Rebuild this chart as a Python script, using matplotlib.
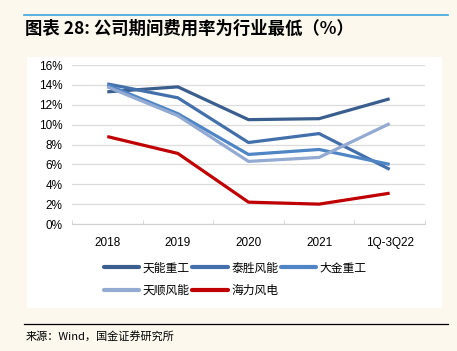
import matplotlib.pyplot as plt
from matplotlib.patches import Rectangle
from matplotlib.lines import Line2D

plt.rcParams['font.family'] = ['Liberation Sans', 'Noto Sans CJK SC', 'DejaVu Sans']

categories = ['2018', '2019', '2020', '2021', '1Q-3Q22']
names = ['天能重工', '泰胜风能', '大金重工', '天顺风能', '海力风电']
tianneng = [13.3, 13.8, 10.5, 10.6, 12.6]
taisheng = [14.1, 12.7, 8.2, 9.1, 5.5]
dajin = [14.0, 11.1, 7.0, 7.5, 6.0]
tianshun = [13.8, 10.9, 6.3, 6.7, 10.1]
haili = [8.8, 7.1, 2.2, 2.0, 3.1]
series = [tianneng, taisheng, dajin, tianshun, haili]
colors = ['#3A5E8E', '#4370AB', '#4F85C5', '#93AAD3', '#C00000']

bg = '#FCF8EE'
fig = plt.figure(figsize=(4.57, 3.51), dpi=100, facecolor=bg)

# white panel behind chart
fig.patches.append(Rectangle((0.059, 0.1225), 0.909, 0.715, transform=fig.transFigure,
                             facecolor='white', edgecolor='none', zorder=-5))
# top blue rule and bottom black rule
fig.add_artist(Line2D([0.0525, 0.98], [0.957, 0.957], color='#3DA5E0', lw=1.2))
fig.add_artist(Line2D([0.0525, 0.98], [0.077, 0.077], color='black', lw=0.9))

fig.text(0.055, 0.918, '图表 28: 公司期间费用率为行业最低（%）', fontsize=12.5,
         fontweight='bold', family=['Noto Sans CJK SC'], va='center', ha='left')
fig.text(0.055, 0.041, '来源：Wind，国金证券研究所', fontsize=8,
         family=['Noto Sans CJK SC'], va='center', ha='left')

ax = fig.add_axes([0.1575, 0.3618, 0.7724, 0.453], zorder=2)
ax.set_facecolor('white')
x = range(len(categories))
lines = []
for vals, c, n in zip(series, colors, names):
    ln, = ax.plot(x, vals, color=c, lw=2.3, label=n, solid_capstyle='butt')
    lines.append(ln)

ax.set_xlim(-0.5, len(categories) - 0.5)
ax.set_ylim(0, 16)
ax.set_yticks(range(0, 17, 2))
ax.set_yticklabels([f'{v}%' for v in range(0, 17, 2)], fontsize=8.5)
ax.set_xticks(list(x))
ax.set_xticklabels(categories, fontsize=8.5)
ax.tick_params(axis='y', length=0, pad=7)
ax.tick_params(axis='x', length=0, pad=9)
ax.set_xticks([i - 0.5 for i in range(len(categories) + 1)], minor=True)
ax.tick_params(axis='x', which='minor', length=3, color='#D0D0D0', direction='in')
ax.grid(axis='y', color='#DCDCDC', lw=0.9)
ax.set_axisbelow(True)
for s in ['top', 'right', 'left']:
    ax.spines[s].set_visible(False)
ax.spines['bottom'].set_color('#D0D0D0')

order = [0, 3, 1, 4, 2]
leg = fig.legend([lines[i] for i in order], [names[i] for i in order], ncol=3,
                 loc='upper center', bbox_to_anchor=(0.515, 0.285), frameon=False,
                 prop={'family': 'Noto Sans CJK SC', 'size': 8.5},
                 handlelength=3.0, handletextpad=0.3, columnspacing=0.2,
                 labelspacing=0.8)
for h in leg.get_lines():
    h.set_linewidth(3)
    h.set_solid_capstyle('round')

fig.savefig('out.png', dpi=100, facecolor=bg)
